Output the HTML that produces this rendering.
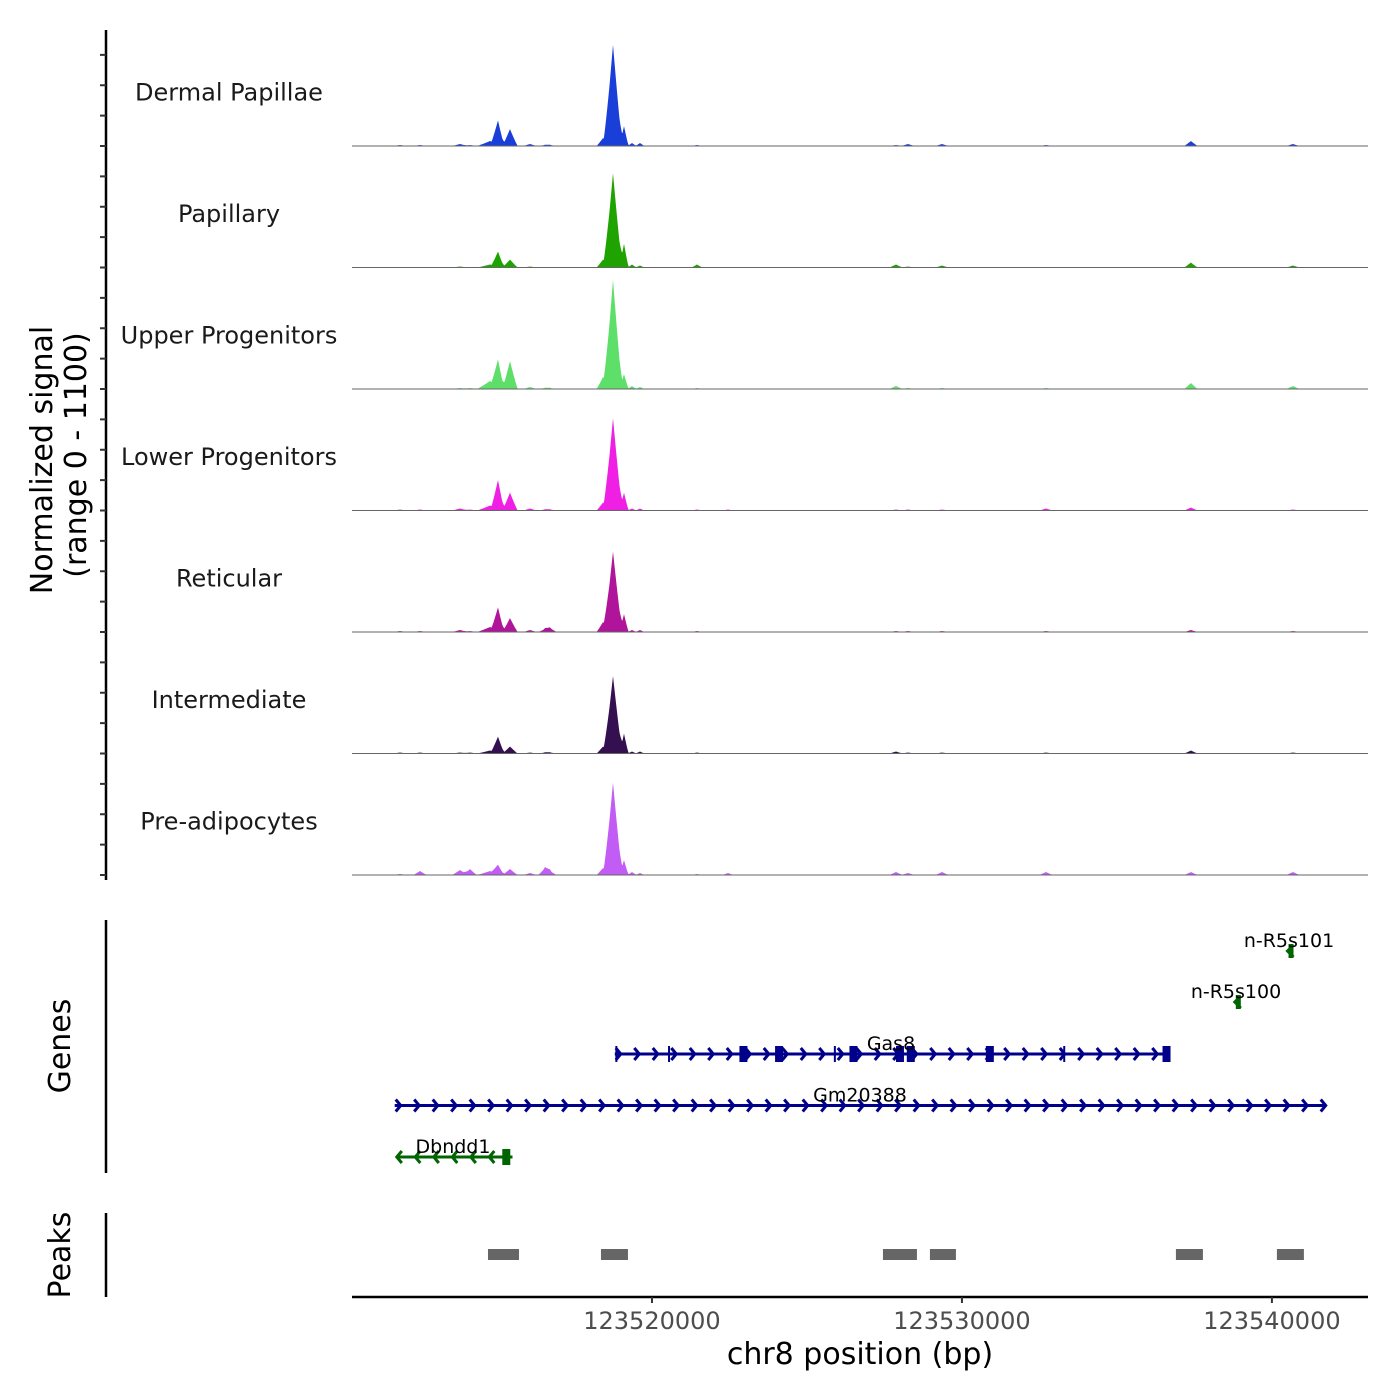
<!DOCTYPE html>
<html><head><meta charset="utf-8"><style>
body{margin:0;background:#fff}
svg{display:block;font-family:"DejaVu Sans","Liberation Sans",sans-serif}
</style></head><body>
<svg id="chart" width="1400" height="1400" viewBox="0 0 1400 1400" xmlns="http://www.w3.org/2000/svg"></svg>
<script>
// ---- data ----
const trackNames = ["Dermal Papillae","Papillary","Upper Progenitors","Lower Progenitors","Reticular","Intermediate","Pre-adipocytes"];
const trackColors = ["#1a3fd8","#1fa300","#5ddf6a","#ef1fe4","#b0149a","#351050","#c15cf4"];
const peakPos = [123511870,123512516,123513806,123514128,123514774,123515032,123515419,123516064,123516548,123516709,123518419,123518742,123519097,123519355,123519613,123521452,123522452,123527871,123528258,123529355,123532710,123537387,123540678];
const peakWidth = [220,220,260,220,420,210,250,220,220,220,210,300,150,150,150,180,180,220,220,220,220,220,220];
const sigDP  = [9,9,18,9,45,216,153,18,9,9,72,918,180,27,27,9,0,9,18,18,9,45,18];
const sigPap = [0,0,9,0,27,135,72,9,0,0,72,855,216,27,18,27,0,27,9,18,0,45,18];
const sigUp  = [0,0,9,9,72,243,252,18,9,9,108,990,135,27,18,9,0,27,9,9,9,54,27];
const sigLow = [9,9,18,9,45,261,162,18,9,9,72,837,162,18,18,9,9,9,9,9,18,27,9];
const sigRet = [9,9,18,9,45,207,126,18,27,36,90,729,162,18,18,9,0,9,9,9,9,18,9];
const sigInt = [9,9,9,9,27,144,63,9,9,9,63,702,180,18,18,9,0,18,9,9,9,27,9];
const sigPre = [9,36,45,54,36,81,54,18,63,36,63,837,135,27,18,9,18,27,18,27,27,27,27];
const signals = [sigDP,sigPap,sigUp,sigLow,sigRet,sigInt,sigPre];
const xTicks = [123520000,123530000,123540000];
const peakStarts = [123514709,123518354,123527451,123528967,123536903,123540161];
const peakEnds   = [123515709,123519225,123528548,123529806,123537774,123541032];
const genes = [
 {name:"Gas8",start:123518800,end:123536600,strand:1,row:0,color:"#00008b",exons:[123522950,123524100,123526500,123528000,123528350,123530900,123536600],thin:[123518850,123520550,123525900,123533300],lx:891},
 {name:"Gm20388",start:123511700,end:123541700,strand:1,row:1,color:"#00008b",exons:[],thin:[],lx:860},
 {name:"Dbndd1",start:123511800,end:123515500,strand:-1,row:2,color:"#006400",exons:[123515300],thin:[],lx:453},
 {name:"n-R5s100",start:123538900,end:123539000,strand:-1,row:-1,color:"#006400",exons:[],thin:[],lx:1236,y:1002},
 {name:"n-R5s101",start:123540600,end:123540700,strand:-1,row:-2,color:"#006400",exons:[],thin:[],lx:1289,y:951}
];
const yMax = 1100;
// ---- layout ----
const X0=352,X1=1368,BP0=123510322,BP1=123543100;
function xs(bp){return X0+(bp-BP0)/(BP1-BP0)*(X1-X0);}
const trackTop=24.5,trackH=121.5;
function ys(v,i){return trackTop+trackH*(i+1)-v/yMax*trackH;}
const svg=document.getElementById('chart');
const NS="http://www.w3.org/2000/svg";
function mk(tag,attrs,parent){const e=document.createElementNS(NS,tag);for(const k in attrs)e.setAttribute(k,attrs[k]);(parent||svg).appendChild(e);return e;}

signals.forEach((sig,i)=>{
  const g=mk('g',{});
  
  
  let pts=[];
  for(let px=X0;px<=X1;px+=0.5){
    const bp=BP0+(px-X0)/(X1-X0)*(BP1-BP0);
    let v=0;
    for(let k=0;k<peakPos.length;k++){
      const d=Math.abs(bp-peakPos[k])/peakWidth[k];
      if(d<1)v+=sig[k]*Math.pow(1-d,1.1);
    }
    pts.push(px.toFixed(1)+','+ys(v,i).toFixed(1));
  }
  const base=ys(0,i);
  const area=mk('polygon',{points:X0+','+base+' '+pts.join(' ')+' '+X1+','+base,fill:trackColors[i]},g);
  
  
  const bl=mk('line',{x1:X0,x2:X1,y1:base,y2:base,stroke:'#666','stroke-width':1},g);
  
  
  const t=mk('text',{x:229,y:trackTop+trackH*i+76,'text-anchor':'middle','font-size':24,fill:'#1a1a1a'},g);
  t.textContent=trackNames[i];
  
  
});
const ax=mk('line',{x1:106,x2:106,y1:30,y2:880,stroke:'#000','stroke-width':2.5});


for(let k=1;k<=28;k++){
  const y=trackTop+k*trackH/4;
  const tk=mk('line',{x1:100,x2:106,y1:y,y2:y,stroke:'#333','stroke-width':2});
  
  
}
const yt=mk('text',{transform:'translate(52,460) rotate(-90)','text-anchor':'middle','font-size':30,fill:'#000'});
yt.textContent='Normalized signal';


const yt2=mk('text',{transform:'translate(86,455) rotate(-90)','text-anchor':'middle','font-size':30,fill:'#000'});
yt2.textContent='(range 0 - '+yMax+')';



const ga=mk('line',{x1:106,x2:106,y1:920,y2:1173,stroke:'#000','stroke-width':2.5});


const gt=mk('text',{transform:'translate(70,1046) rotate(-90)','text-anchor':'middle','font-size':30});
gt.textContent='Genes';


genes.forEach(gn=>{
  const g=mk('g',{});
  
  
  const y=gn.y!==undefined?gn.y:1054+gn.row*51.5;
  const x1=xs(gn.start),x2=xs(gn.end);
  if(gn.start===gn.end-100){
    mk('rect',{x:x1-2,y:y-7,width:5,height:14,fill:gn.color},g);
    mk('polyline',{points:(x1+3)+','+(y-6)+' '+(x1-3)+','+y+' '+(x1+3)+','+(y+6),fill:'none',stroke:gn.color,'stroke-width':3},g);
  } else {
    mk('line',{x1:x1,x2:x2,y1:y,y2:y,stroke:gn.color,'stroke-width':3},g);
    const step=18.5;
    for(let x=x1+(gn.strand>0?1:4);x<=x2-1;x+=step){
      const d=gn.strand>0?5:-5;
      mk('polyline',{points:(x)+','+(y-6)+' '+(x+d)+','+y+' '+(x)+','+(y+6),fill:'none',stroke:gn.color,'stroke-width':3},g);
    }
  }
  gn.exons.forEach(e=>mk('rect',{x:xs(e)-4,y:y-8,width:8,height:16,fill:gn.color},g));
  gn.thin.forEach(e=>mk('line',{x1:xs(e),x2:xs(e),y1:y-8,y2:y+8,stroke:gn.color,'stroke-width':2},g));
  const t=mk('text',{x:gn.lx,y:y-4,'text-anchor':'middle','font-size':19,fill:'#000'},g);
  t.textContent=gn.name;
});
const pa=mk('line',{x1:106,x2:106,y1:1213,y2:1297,stroke:'#000','stroke-width':2.5});


const pt=mk('text',{transform:'translate(70,1255) rotate(-90)','text-anchor':'middle','font-size':30});
pt.textContent='Peaks';


peakStarts.forEach((s,k)=>{
  const r=mk('rect',{x:xs(s),y:1249,width:xs(peakEnds[k])-xs(s),height:11,fill:'#666'});
  
  
});
const xa=mk('line',{x1:X0,x2:X1,y1:1297,y2:1297,stroke:'#000','stroke-width':2.5});


xTicks.forEach(t=>{
  const x=xs(t);
  const tk=mk('line',{x1:x,x2:x,y1:1297,y2:1303,stroke:'#333','stroke-width':2});
  
  
  const l=mk('text',{x:x,y:1329,'text-anchor':'middle','font-size':24,fill:'#4d4d4d'});
  l.textContent=t;
  
  
});
const xt=mk('text',{x:860,y:1364,'text-anchor':'middle','font-size':30});
xt.textContent='chr8 position (bp)';


</script>
</body></html>
